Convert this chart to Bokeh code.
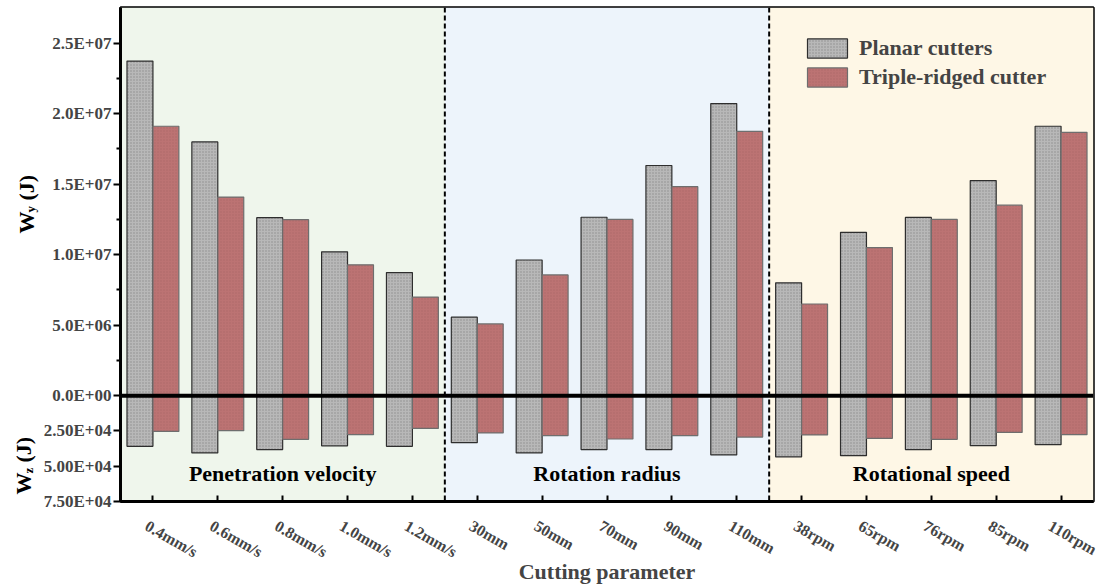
import math
from bokeh.plotting import figure
from bokeh.layouts import row
from bokeh.models import (ColumnDataSource, FixedTicker, Span, BoxAnnotation,
                          Legend, LegendItem, Range1d, LinearAxis)
from bokeh.transform import dodge
from bokeh.core.properties import value
from bokeh.embed import file_html
from bokeh.resources import INLINE

# ---------------- data ----------------
categories = ["0.4mm/s", "0.6mm/s", "0.8mm/s", "1.0mm/s", "1.2mm/s",
              "30mm", "50mm", "70mm", "90mm", "110mm",
              "38rpm", "65rpm", "76rpm", "85rpm", "110rpm"]
planar_wy = [2.372e7, 1.799e7, 1.262e7, 1.020e7, 8.73e6,
             5.57e6, 9.62e6, 1.265e7, 1.632e7, 2.071e7,
             8.00e6, 1.158e7, 1.264e7, 1.525e7, 1.910e7]
triple_wy = [1.910e7, 1.408e7, 1.248e7, 9.28e6, 6.99e6,
             5.09e6, 8.56e6, 1.250e7, 1.482e7, 1.874e7,
             6.50e6, 1.050e7, 1.250e7, 1.351e7, 1.867e7]
planar_wz = [35900, 40600, 38200, 35500, 35900,
             33300, 40600, 38200, 38200, 42000,
             43400, 42500, 38200, 35400, 34700]
triple_wz = [25300, 24800, 30900, 27600, 23200,
             26400, 28300, 30700, 28300, 29300,
             27800, 30200, 30900, 26000, 27600]
groups = ["Penetration velocity", "Rotation radius", "Rotational speed"]
group_sizes = [5, 5, 5]
group_colors = ["#EFF6EC", "#EDF4FB", "#FEF7E6"]
wy_ticks = [0, 5000000, 10000000, 15000000, 20000000, 25000000]
wy_tick_labels = ["0.0E+00", "5.0E+06", "1.0E+07", "1.5E+07", "2.0E+07", "2.5E+07"]
wz_ticks = [25000, 50000, 75000]
wz_tick_labels = ["2.50E+04", "5.00E+04", "7.50E+04"]

FONT = "Liberation Serif"
WY_TOP = 2.752e7
WZ_BOTTOM = 75000
RATIO = 100.0  # Wy units per Wz unit on the shared frame
TOTAL_W, TOTAL_H = 1099, 588
B_TOP, B_BOTTOM, B_LEFT, B_RIGHT = 7, 87, 120, 6
LAB_W = 39     # width of the strip holding the rotated y titles

# ---------------- y titles strip (coordinates = pixels from canvas bottom) ----------------
ylab = figure(width=LAB_W, height=TOTAL_H, output_backend="svg", toolbar_location=None,
              x_range=Range1d(0, LAB_W), y_range=Range1d(B_BOTTOM, TOTAL_H - B_TOP),
              x_axis_location=None, y_axis_location=None,
              min_border_left=0, min_border_right=0,
              min_border_top=B_TOP, min_border_bottom=B_BOTTOM)
ylab.grid.visible = False
ylab.outline_line_color = None
ylab.border_fill_color = "white"
ylab.background_fill_color = "white"
tkw = dict(angle=math.pi / 2, text_font=value(FONT), text_font_style="bold",
           text_align="left", text_baseline="alphabetic", text_color="black")
# W_y (J)
ylab.text(x=[26], y=[355], text=["W"], text_font_size="22px", **tkw)
ylab.text(x=[30], y=[376], text=["y"], text_font_size="13px", **tkw)
ylab.text(x=[26], y=[388], text=["(J)"], text_font_size="22px", **tkw)
# W_z (J)
ylab.text(x=[23], y=[94], text=["W"], text_font_size="22px", **tkw)
ylab.text(x=[27.5], y=[115], text=["z"], text_font_size="13px", **tkw)
ylab.text(x=[23], y=[126], text=["(J)"], text_font_size="22px", **tkw)

# ---------------- main chart ----------------
x_idx = list(range(len(categories)))
src = ColumnDataSource(dict(x=x_idx, cat=categories, pwy=planar_wy, twy=triple_wy,
                            pwz=planar_wz, twz=triple_wz))

p = figure(width=TOTAL_W - LAB_W, height=TOTAL_H, output_backend="svg", toolbar_location=None,
           x_range=Range1d(-0.5, len(categories) - 0.5),
           y_range=Range1d(-WZ_BOTTOM * RATIO, WY_TOP),
           min_border_left=B_LEFT - LAB_W, min_border_right=B_RIGHT,
           min_border_top=B_TOP, min_border_bottom=B_BOTTOM)
p.extra_y_ranges = {"wz": Range1d(WZ_BOTTOM, -WY_TOP / RATIO)}
LAB_SHIFT = 0.1
p.extra_x_ranges = {"lab": Range1d(-0.5 + LAB_SHIFT, len(categories) - 0.5 + LAB_SHIFT)}
p.grid.visible = False
p.background_fill_color = "white"
p.border_fill_color = "white"
p.outline_line_color = "black"
p.outline_line_width = 2.5

# background panels and separators
start = 0
for g, n, c in zip(groups, group_sizes, group_colors):
    p.add_layout(BoxAnnotation(left=start - 0.5, right=start + n - 0.5, fill_color=c,
                               fill_alpha=1, line_alpha=0, level="underlay"))
    if start > 0:
        p.add_layout(Span(location=start - 0.5, dimension="height", line_color="black",
                          line_width=2, line_dash="5 3"))
    start += n

bar_kw = dict(width=0.4, source=src)
grey = dict(fill_color="#B8B8B8", line_color="#2E2E2E", line_width=1.2,
            hatch_pattern="dot", hatch_scale=3, hatch_color="#555555", hatch_alpha=0.45)
red = dict(fill_color="#BC7373", line_color="#6E6E6E", line_width=1.2,
           hatch_pattern="dot", hatch_scale=3, hatch_color="#8A4C4C", hatch_alpha=0.3)

r1 = p.vbar(x=dodge("x", -0.2, range=p.x_range), top="pwy", bottom=0, **bar_kw, **grey)
r2 = p.vbar(x=dodge("x", 0.2, range=p.x_range), top="twy", bottom=0, **bar_kw, **red)
p.vbar(x=dodge("x", -0.2, range=p.x_range), top=0, bottom="pwz", y_range_name="wz", **bar_kw, **grey)
p.vbar(x=dodge("x", 0.2, range=p.x_range), top=0, bottom="twz", y_range_name="wz", **bar_kw, **red)

p.add_layout(Span(location=0, dimension="width", line_color="black", line_width=4))

# group labels
centers, s = [], 0
for n in group_sizes:
    centers.append(s + (n - 1) / 2)
    s += n
p.text(x=centers, y=[55000] * len(groups), text=groups, y_range_name="wz",
       text_font=value(FONT), text_font_style="bold", text_font_size="22px",
       text_align="center", text_baseline="middle", text_color="black")

# y axis
yax = p.yaxis[0]
wz_pos = [-v * RATIO for v in wz_ticks]
minor = [(a + b) / 2 for a, b in zip(wy_ticks[:-1], wy_ticks[1:])]
yax.ticker = FixedTicker(ticks=wy_ticks + wz_pos, minor_ticks=minor)
ov = dict(zip(wy_ticks, wy_tick_labels))
ov.update({int(k): v for k, v in zip(wz_pos, wz_tick_labels)})
yax.major_label_overrides = ov
yax.axis_line_width = 3
yax.major_tick_line_width = 2
yax.major_tick_out = 7
yax.major_tick_in = 0
yax.minor_tick_line_width = 2
yax.minor_tick_out = 4
yax.minor_tick_in = 0
yax.major_label_standoff = 2
yax.major_label_text_font = FONT
yax.major_label_text_font_style = "bold"
yax.major_label_text_font_size = "17px"

# x axis: line + inward ticks only
xax = p.xaxis[0]
xax.ticker = FixedTicker(ticks=x_idx)
xax.axis_line_width = 3
xax.major_tick_line_width = 2
xax.major_tick_in = 6
xax.major_tick_out = 0
xax.minor_tick_line_color = None
xax.major_label_standoff = 0
xax.major_label_text_font_size = "0px"
xax.major_label_overrides = {i: "" for i in x_idx}

# x labels on a slightly shifted companion axis
lab_ax = LinearAxis(x_range_name="lab", ticker=FixedTicker(ticks=x_idx),
                    major_label_overrides=dict(zip(x_idx, categories)),
                    major_label_orientation=-0.52, axis_line_color=None,
                    major_tick_line_color=None, minor_tick_line_color=None,
                    major_tick_in=0, major_tick_out=0,
                    major_label_standoff=23, major_label_text_font=FONT,
                    major_label_text_font_style="bold", major_label_text_font_size="16px",
                    axis_label="Cutting parameter", axis_label_text_font=FONT,
                    axis_label_text_font_style="bold", axis_label_text_font_size="22px",
                    axis_label_standoff=-12)
p.add_layout(lab_ax, "below")

legend = Legend(items=[LegendItem(label="Planar cutters", renderers=[r1]),
                       LegendItem(label="Triple-ridged cutter", renderers=[r2])],
                location=(682, 411), glyph_width=50, glyph_height=24, spacing=3,
                padding=0, margin=0, label_standoff=7, border_line_alpha=0,
                background_fill_alpha=0, label_text_font=FONT,
                label_text_font_style="bold", label_text_font_size="22px")
p.add_layout(legend)

layout = row(ylab, p)
open("out.html", "w").write(file_html(layout, INLINE))
